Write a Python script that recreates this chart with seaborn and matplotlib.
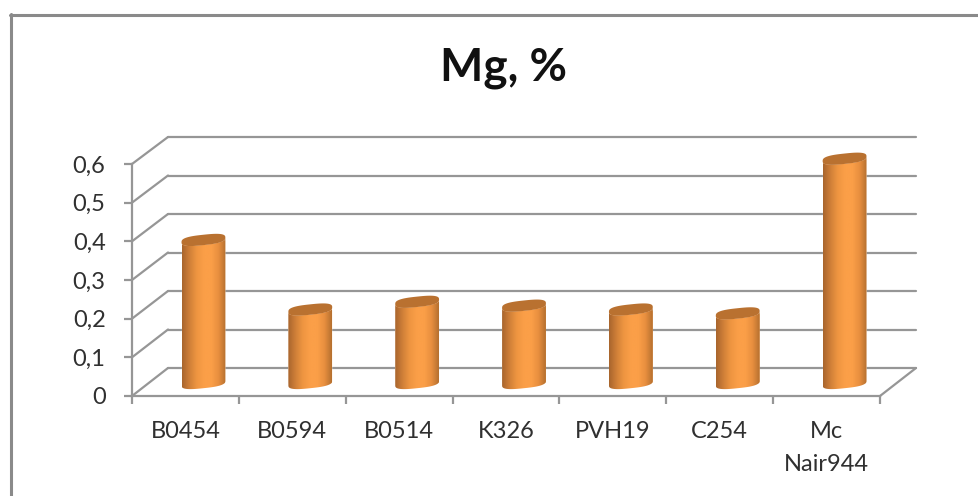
import matplotlib
matplotlib.use("Agg")
import matplotlib.pyplot as plt
import numpy as np
import pandas as pd
import seaborn as sns
from matplotlib.colors import LinearSegmentedColormap
from matplotlib.lines import Line2D
from matplotlib.patches import ConnectionPatch, Polygon

CATEGORIES = ["B0454", "B0594", "B0514", "K326", "PVH19", "C254", "Mc\nNair944"]
MG_VALUES = [0.37, 0.19, 0.21, 0.20, 0.19, 0.18, 0.58]
Y_TICKS = [0, 0.1, 0.2, 0.3, 0.4, 0.5, 0.6]
Y_LABELS = ["0", "0,1", "0,2", "0,3", "0,4", "0,5", "0,6"]

W, H = 979, 496
AXIS_GREY = "#969696"
TEXT = "#303030"

sns.set_theme(style="white")
plt.rcParams["font.family"] = ["Lato", "DejaVu Sans"]


def rect(left, right, top, bottom):
    """Pixel box (y down) to figure fractions."""
    return [left / W, 1 - bottom / H, (right - left) / W, (bottom - top) / H]


def rounded(angle, power=0.7):
    """Slightly squared-off ellipse outline, like the Excel cylinder caps."""
    return np.sign(np.cos(angle)) * np.abs(np.cos(angle)) ** power, np.sign(np.sin(angle)) * np.abs(np.sin(angle)) ** power


fig = plt.figure(figsize=(W / 100, H / 100), dpi=100, facecolor="white")
df = pd.DataFrame({"line": CATEGORIES, "mg": MG_VALUES})

# back wall, front axis, and the bars halfway between them
wall = fig.add_axes(rect(168, 916, 137, 368), zorder=1)
front = fig.add_axes(rect(132, 880, 164, 396), zorder=2)
PAD = 0.06  # room below zero for the rounded cylinder base
px_per_unit = 232 / 0.6
bars = fig.add_axes(rect(150, 898, 151 - PAD * px_per_unit, 383 + PAD * px_per_unit), zorder=3)

for ax in (wall, front, bars):
    ax.set_xlim(-0.5, 6.5)
    ax.set_ylim(0, 0.6)
    ax.patch.set_alpha(0)
    sns.despine(ax=ax, left=True, bottom=True, top=True, right=True)

wall.set_xticks([])
wall.set_yticks(Y_TICKS)
wall.tick_params(left=False, labelleft=False)
for v in Y_TICKS:
    wall.plot([-0.5, 6.5], [v, v], color=AXIS_GREY, lw=1.6, clip_on=False)

front.spines["left"].set_visible(True)
front.spines["bottom"].set_visible(True)
for side in ("left", "bottom"):
    front.spines[side].set_color(AXIS_GREY)
    front.spines[side].set_linewidth(1.6)
front.set_yticks(Y_TICKS, Y_LABELS)
front.set_xticks(np.arange(-0.5, 7), [""] * 8)
front.set_xticks(np.arange(7), CATEGORIES, minor=True)
front.tick_params(axis="y", length=6, width=1.6, color=AXIS_GREY, labelcolor=TEXT, labelsize=17, pad=13, left=True)
front.tick_params(axis="x", which="major", length=6, width=1.6, color=AXIS_GREY, bottom=True)
front.tick_params(axis="x", which="minor", length=0, labelcolor=TEXT, labelsize=17, pad=18)
for label in front.get_xticklabels(minor=True):
    label.set_linespacing(1.7)

# receding edges of the floor and side wall
for v in Y_TICKS:
    fig.add_artist(ConnectionPatch((-0.5, v), (-0.5, v), "data", "data", axesA=front, axesB=wall,
                                   color=AXIS_GREY, lw=1.6))
fig.add_artist(ConnectionPatch((6.5, 0), (6.5, 0), "data", "data", axesA=front, axesB=wall,
                               color=AXIS_GREY, lw=1.6))

# cylinders: seaborn bars, then shaded body and darker lid on top
sns.barplot(data=df, x="line", y="mg", order=CATEGORIES, color="#f79a45", width=0.41,
            saturation=1, ax=bars)
bars.set_xlabel("")
bars.set_ylabel("")
bars.set_xticks([])
bars.set_yticks([])
bars.tick_params(left=False, bottom=False, labelleft=False, labelbottom=False)

shade = LinearSegmentedColormap.from_list(
    "cyl", ["#a8652d", "#cf7f38", "#ee9541", "#fb9f48", "#fb9f48", "#e88f3f", "#b5702f"])
gradient = np.linspace(0, 1, 128).reshape(1, -1)
RY = 5.2 / px_per_unit
TILT = 2.3 / px_per_unit
t = np.linspace(0, 2 * np.pi, 120)

for bar in bars.patches:
    x0, bw, top = bar.get_x(), bar.get_width(), bar.get_height()
    cx, rx = x0 + bw / 2, bw / 2
    cos_t, sin_t = rounded(t)
    # lower half of base ellipse, then the lid's lower half reversed
    low = np.linspace(np.pi, 2 * np.pi, 60)
    cos_l, sin_l = rounded(low)
    bx = cx + rx * cos_l
    by = RY * sin_l + TILT * cos_l
    body = Polygon(np.column_stack([np.r_[bx, bx[::-1]], np.r_[by, top + by[::-1]]]), closed=True,
                   transform=bars.transData, facecolor="none", edgecolor="none")
    bars.add_patch(body)
    bar.set_clip_path(body)
    im = bars.imshow(gradient, extent=[x0, x0 + bw, -PAD, top + PAD], cmap=shade, aspect="auto",
                     origin="lower", zorder=3)
    im.set_clip_path(body)
    bars.fill(cx + rx * cos_t, top + RY * sin_t + TILT * cos_t, color="#b97130", lw=0, zorder=4)

bars.set_xlim(-0.5, 6.5)
bars.set_ylim(-PAD, 0.6 + PAD)

fig.text(503 / W, 1 - 68 / H, "Mg, %", ha="center", va="center", fontsize=33, fontweight="bold", color="#111111")

# chart frame, only its top and left edges fall inside the picture
frame = dict(color="#8a8a8a", lw=2.2, transform=fig.transFigure)
fig.add_artist(Line2D([10 / W, 1], [1 - 14.5 / H] * 2, **frame))
fig.add_artist(Line2D([10.5 / W] * 2, [1 - 14 / H, 0], **frame))

fig.savefig("out.png", dpi=100)
